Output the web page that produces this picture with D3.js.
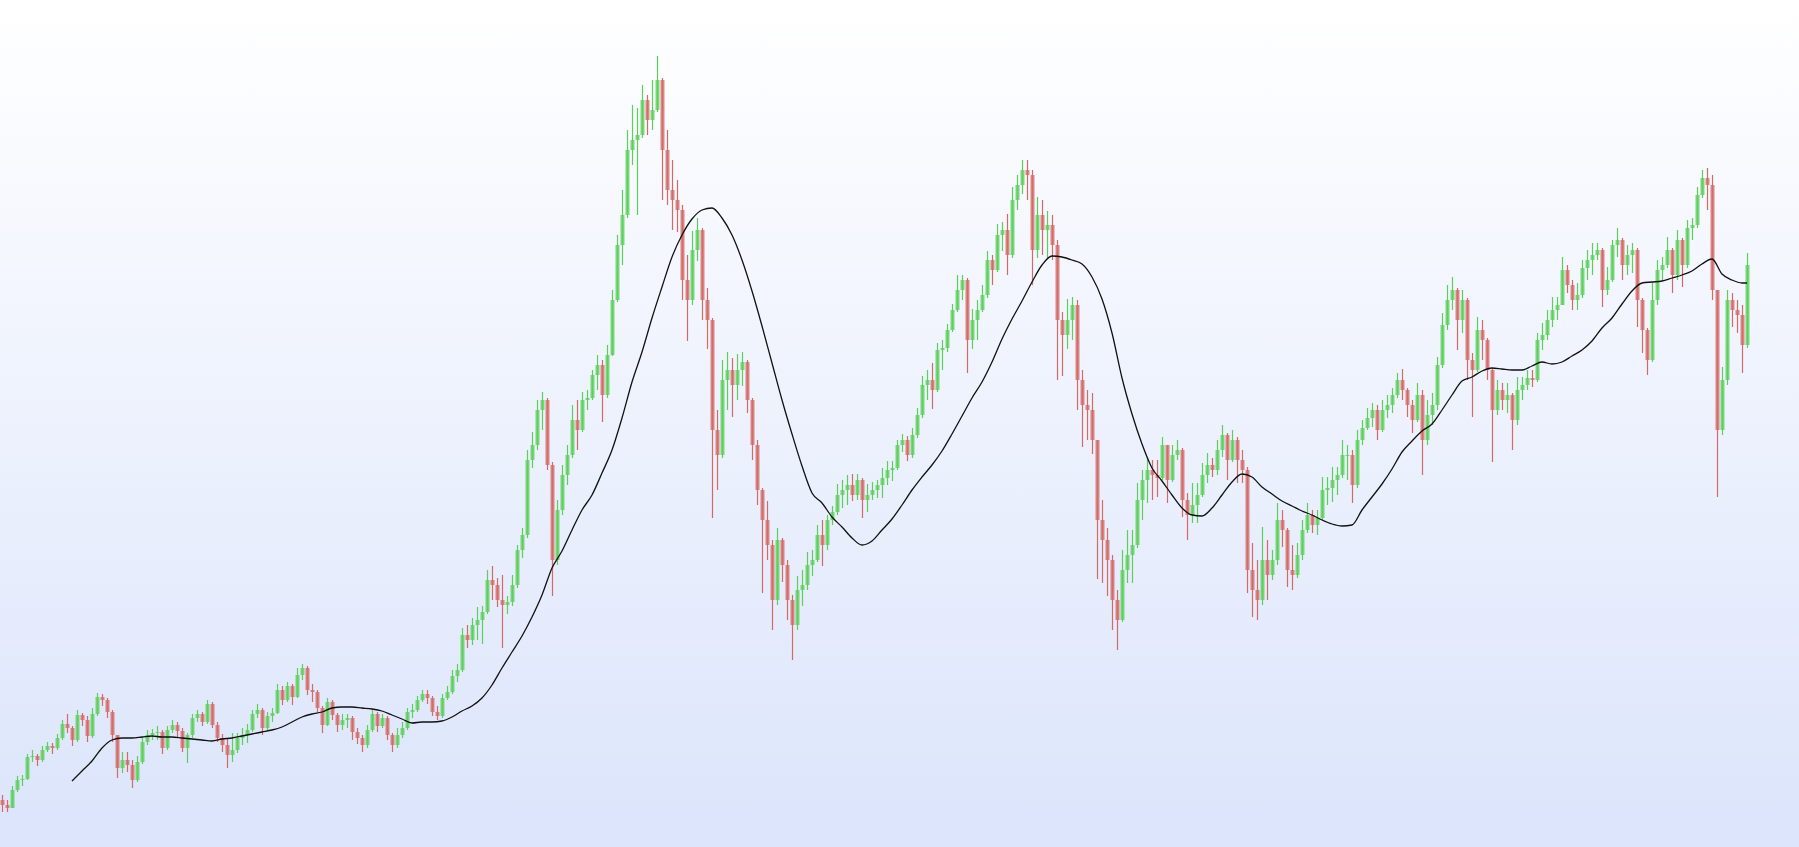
<!DOCTYPE html>
<html><head><meta charset="utf-8">
<script src="https://cdn.jsdelivr.net/npm/d3@7"></script>
<style>html,body{margin:0;padding:0;overflow:hidden;background:#fff}</style>
</head><body>
<svg id="chart" width="1799" height="847"></svg>
<script>
// Price data (arbitrary units), one candle per session; open = previous close
const firstOpen = 200;
const highs = [
205,200,214,224,225,246,250,246,254,258,
257,266,280,286,274,290,287,284,292,307,
306,302,290,265,248,248,240,244,263,270,
271,274,270,274,280,278,272,267,286,290,
288,300,298,278,266,262,267,267,272,276,
290,296,292,288,292,316,314,318,316,332,
336,334,316,310,294,302,300,287,286,286,
284,272,265,275,290,288,286,284,267,272,
278,292,296,304,310,310,304,294,306,314,
330,336,372,375,382,393,394,430,434,422,
425,404,425,455,472,550,568,600,608,602,
538,500,535,555,595,600,608,610,630,645,
640,655,710,765,810,870,895,892,915,905,
920,944,922,870,840,820,795,745,769,782,
772,712,682,590,640,648,642,646,648,640,
602,560,512,499,460,472,462,440,405,424,
430,448,450,475,480,485,494,516,520,525,
526,526,522,516,518,520,532,539,539,560,
566,564,572,592,624,630,637,657,660,676,
696,725,725,722,691,700,715,749,745,776,
778,786,813,825,840,840,830,803,800,789,
785,760,688,701,703,700,630,610,607,560,
500,472,445,410,450,470,470,517,530,543,
540,540,563,555,555,560,552,507,517,517,
537,547,542,560,575,567,570,563,550,533,
457,440,473,460,450,497,490,472,455,457,
480,497,490,490,523,523,533,533,560,555,
550,570,580,592,597,595,600,605,612,627,
631,612,600,617,610,600,607,643,687,715,
723,712,710,702,647,683,680,662,632,620,
617,617,607,623,623,630,630,667,677,690,
703,703,743,735,720,717,740,750,757,757,
752,733,760,772,762,755,757,752,702,672,
717,740,743,763,752,770,762,780,782,813,
830,832,825,710,633,710,707,700,695,747];
const lows = [
188,188,198,208,214,220,238,234,238,248,
246,250,260,267,254,258,274,258,262,284,
294,282,258,222,227,228,212,218,236,255,
260,260,246,250,267,263,248,237,262,278,
274,276,272,258,248,232,238,247,255,257,
268,282,265,270,278,286,295,298,295,302,
320,305,298,288,267,274,280,268,270,272,
260,256,248,252,268,268,272,260,248,252,
262,270,282,288,298,296,284,280,282,300,
306,318,328,352,355,360,356,386,400,393,
352,386,394,412,442,462,532,550,570,530,
404,435,485,515,542,550,568,590,600,610,
578,602,644,698,735,782,835,785,862,865,
870,888,800,795,770,768,700,659,695,739,
680,651,482,510,542,590,583,600,614,587,
540,495,407,440,370,395,418,380,340,370,
394,410,424,438,434,450,475,485,492,495,
499,500,482,488,500,502,502,515,519,530,
548,539,542,562,582,600,591,608,630,648,
668,688,700,627,651,660,688,702,715,728,
749,725,742,790,806,800,715,742,745,742,
740,620,624,651,660,590,553,560,546,421,
417,404,370,350,378,417,417,452,480,497,
500,503,520,497,518,540,483,460,477,477,
503,517,523,525,543,520,538,517,517,407,
383,380,395,400,420,435,453,413,410,422,
440,467,467,465,480,495,498,505,522,520,
497,512,555,570,573,560,568,582,587,602,
600,583,567,578,525,555,575,590,632,670,
690,650,667,620,583,628,640,620,538,585,
590,587,550,575,600,610,613,618,650,660,
673,680,695,707,690,690,702,720,725,740,
693,705,718,743,720,725,727,673,647,625,
638,695,720,732,707,720,713,732,760,772,
802,790,700,503,565,615,673,667,627,652];
const closes = [
195,192,210,220,221,243,244,240,250,254,
252,262,276,272,260,285,280,264,286,303,
300,288,265,232,240,235,220,238,258,265,
267,268,252,270,275,269,252,265,282,286,
278,296,275,262,255,245,250,262,265,270,
286,290,272,284,287,310,300,314,303,325,
332,310,308,292,275,298,285,275,280,282,
268,262,255,270,286,274,282,265,255,265,
272,288,290,300,306,302,288,284,302,308,
324,330,365,360,375,380,388,420,415,400,
395,398,415,450,465,540,555,590,600,535,
440,490,525,545,580,570,600,602,625,635,
605,645,700,755,785,850,860,865,900,880,
890,920,850,810,800,790,720,700,750,770,
700,680,570,545,620,630,615,630,638,600,
555,510,480,455,400,460,435,400,375,410,
415,435,440,465,455,480,488,505,510,515,
505,520,500,505,510,515,522,530,532,555,
560,545,565,585,615,620,610,650,652,670,
690,710,720,660,680,690,705,740,730,765,
770,745,800,815,830,825,750,785,770,775,
755,680,665,680,695,620,595,590,560,480,
460,440,400,380,430,445,455,500,520,530,
525,522,555,520,545,550,500,485,495,505,
525,535,530,550,565,540,560,540,530,430,
410,400,440,425,440,480,470,430,425,445,
470,485,475,482,510,512,520,525,545,545,
515,560,572,582,590,570,590,595,605,620,
610,595,580,605,560,585,595,635,675,700,
710,680,700,640,630,670,660,630,590,610,
600,605,580,610,615,622,620,660,665,680,
690,695,730,715,700,705,732,740,745,750,
710,720,755,760,735,745,750,700,670,640,
700,730,735,750,725,760,735,772,775,805,
822,815,710,570,620,700,690,685,655,735];
// Long moving average, sampled every second session from session 14
const maFirstIndex = 14, maEvery = 2;
const maValues = [
219,229,239,252,260,262,262,263,264,263,
263,262,261,260,259,261,262,264,266,268,
270,273,278,283,286,288,292,293,293,292,
291,289,285,281,277,278,278,279,283,289,
294,302,315,332,348,364,383,405,432,449,
470,490,505,527,550,582,618,648,682,713,
743,765,781,790,792,782,765,740,709,674,
637,600,566,534,507,497,483,473,462,455,
459,470,481,495,510,523,535,549,566,584,
602,618,638,661,681,699,718,735,744,743,
740,736,723,701,667,622,586,556,532,519,
505,492,485,484,492,505,518,526,523,513,
506,499,494,489,485,480,476,474,475,490,
503,516,531,548,559,569,576,590,605,619,
623,629,632,631,630,630,634,638,636,638,
644,650,659,672,682,696,709,717,718,719,
722,725,729,736,741,726,720,717,717];

const W = 1799, H = 847;
const svg = d3.select('#chart');
const defs = svg.append('defs');
const grad = defs.append('linearGradient').attr('id', 'bg')
  .attr('x1', 0).attr('y1', 0).attr('x2', 0).attr('y2', 1);
grad.append('stop').attr('offset', '0%').attr('stop-color', '#ffffff');
grad.append('stop').attr('offset', '100%').attr('stop-color', '#dbe4fb');
svg.append('rect').attr('width', W).attr('height', H).attr('fill', 'url(#bg)');

const candles = closes.map((c, i) => ({
  i, open: i ? closes[i - 1] : firstOpen, high: highs[i], low: lows[i], close: c
}));
const x = d3.scaleLinear().domain([0, candles.length - 1]).range([2, 1747]);
const y = d3.scaleLinear().domain([153, 1000]).range([H, 0]);
const up = '#5ccf5a', down = '#d46a66';

const g = svg.append('g');
const c = g.selectAll('g.c').data(candles).join('g').attr('class', 'c');
c.append('line')
  .attr('x1', d => x(d.i) + 0.5).attr('x2', d => x(d.i) + 0.5)
  .attr('y1', d => y(Math.max(d.high, d.open, d.close)))
  .attr('y2', d => y(Math.min(d.low, d.open, d.close)))
  .attr('stroke', d => d.close >= d.open ? up : down)
  .attr('stroke-width', 1.2);
c.append('rect')
  .attr('x', d => x(d.i) - 1.5)
  .attr('width', 4)
  .attr('y', d => y(Math.max(d.open, d.close)))
  .attr('height', d => Math.max(1, Math.abs(y(d.open) - y(d.close))))
  .attr('fill', d => d.close >= d.open ? up : down)
  .attr('opacity', 0.8);

const maPts = maValues.map((v, k) => ({ i: Math.min(maFirstIndex + k * maEvery, candles.length - 1), v }));
svg.append('path').datum(maPts)
  .attr('fill', 'none').attr('stroke', '#111').attr('stroke-width', 1.3)
  .attr('d', d3.line().x(d => x(d.i)).y(d => y(d.v)).curve(d3.curveMonotoneX));
</script>
</body></html>
